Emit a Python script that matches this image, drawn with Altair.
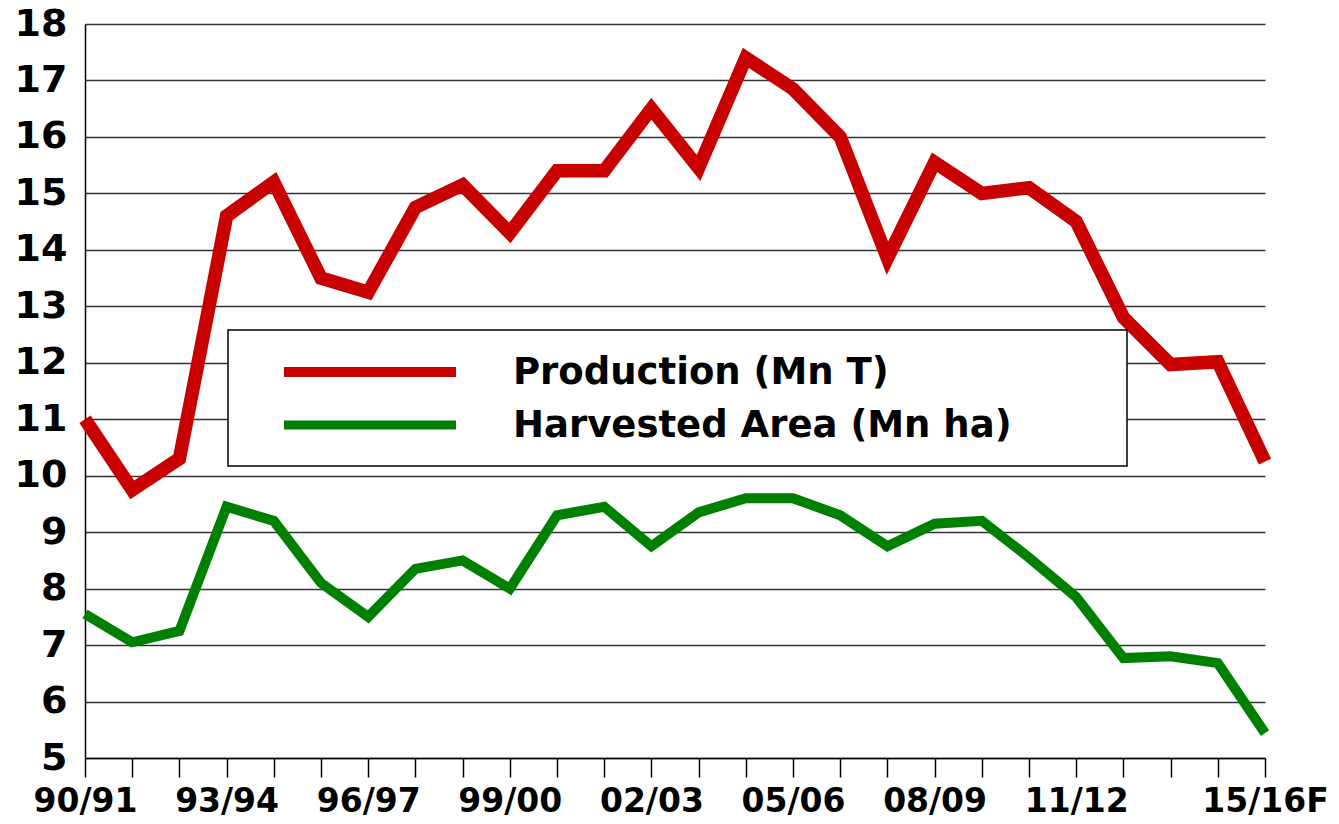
import altair as alt
import pandas as pd

seasons = ["90/91", "91/92", "92/93", "93/94", "94/95", "95/96", "96/97", "97/98",
           "98/99", "99/00", "00/01", "01/02", "02/03", "03/04", "04/05", "05/06",
           "06/07", "07/08", "08/09", "09/10", "10/11", "11/12", "12/13", "13/14",
           "14/15", "15/16F"]
shown_labels = ["90/91", "93/94", "96/97", "99/00", "02/03", "05/06", "08/09", "11/12", "15/16F"]

production = [11.0, 9.75, 10.3, 14.6, 15.2, 13.5, 13.25, 14.75, 15.15, 14.3,
              15.4, 15.4, 16.5, 15.45, 17.4, 16.85, 16.0, 13.85, 15.55, 15.0,
              15.1, 14.5, 12.8, 11.97, 12.02, 10.25]
area = [7.55, 7.05, 7.25, 9.45, 9.2, 8.1, 7.5, 8.35, 8.5, 8.0,
        9.3, 9.45, 8.75, 9.35, 9.6, 9.6, 9.3, 8.75, 9.15, 9.2,
        8.55, 7.85, 6.77, 6.8, 6.68, 5.44]

series_names = ["Production (Mn T)", "Harvested Area (Mn ha)"]
series_colors = ["#C80000", "#008000"]
y_ticks = list(range(5, 19))

df = pd.concat([
    pd.DataFrame({"season": seasons, "value": production, "series": series_names[0]}),
    pd.DataFrame({"season": seasons, "value": area, "series": series_names[1]}),
])

FONT = "DejaVu Sans"
label_list = "[" + ",".join("'" + s + "'" for s in shown_labels) + "]"

lines = alt.Chart(df).mark_line(strokeJoin="miter", strokeCap="butt").encode(
    x=alt.X("season:O", sort=seasons, scale=alt.Scale(type="point", padding=0),
            axis=alt.Axis(title=None, labelAngle=0, labelOverlap=False,
                          labelExpr=f"indexof({label_list}, datum.value) >= 0 ? datum.value : ''",
                          labelFont=FONT, labelFontWeight="bold", labelFontSize=33,
                          labelColor="black", labelPadding=8,
                          tickSize=19, tickColor="black", tickWidth=1.5,
                          domainColor="black", domainWidth=1.5, grid=False)),
    y=alt.Y("value:Q", scale=alt.Scale(domain=[5, 18], nice=False, zero=False),
            axis=alt.Axis(title=None, values=y_ticks, format="d",
                          labelFont=FONT, labelFontWeight="bold", labelFontSize=38,
                          labelColor="black", labelPadding=18, ticks=False,
                          domainColor="black", domainWidth=1.5,
                          grid=True, gridColor="#333333", gridWidth=1.6)),
    color=alt.Color("series:N", scale=alt.Scale(domain=series_names, range=series_colors), legend=None),
    strokeWidth=alt.StrokeWidth("series:N", scale=alt.Scale(domain=series_names, range=[13.5, 10]), legend=None),
    detail="series:N",
)

one = pd.DataFrame({"k": [0]})
legend_box = alt.Chart(one).mark_rect(fill="white", stroke="black", strokeWidth=1.5).encode(
    x=alt.value(143), x2=alt.value(1042), y=alt.value(306), y2=alt.value(442))

legend_layers = [legend_box]
for i, (name, col, w) in enumerate(zip(series_names, series_colors, [10, 9])):
    yy = 348 + 53 * i
    legend_layers.append(
        alt.Chart(one).mark_rule(color=col, strokeWidth=w, strokeCap="butt").encode(
            x=alt.value(199), x2=alt.value(371), y=alt.value(yy)))
    legend_layers.append(
        alt.Chart(pd.DataFrame({"label": [name]})).mark_text(
            align="left", baseline="middle", font=FONT, fontWeight="bold",
            fontSize=37, color="black", dy=1).encode(
            x=alt.value(428), y=alt.value(yy), text="label:N"))

chart = alt.layer(lines, *legend_layers).properties(
    width=1180, height=734,
    autosize=alt.AutoSizeParams(type="none"),
    padding={"left": 85, "top": 24, "right": 74, "bottom": 66},
    background="white",
).configure_view(stroke=None)

chart.save("out.html", embed_options={"renderer": "svg", "actions": False})
